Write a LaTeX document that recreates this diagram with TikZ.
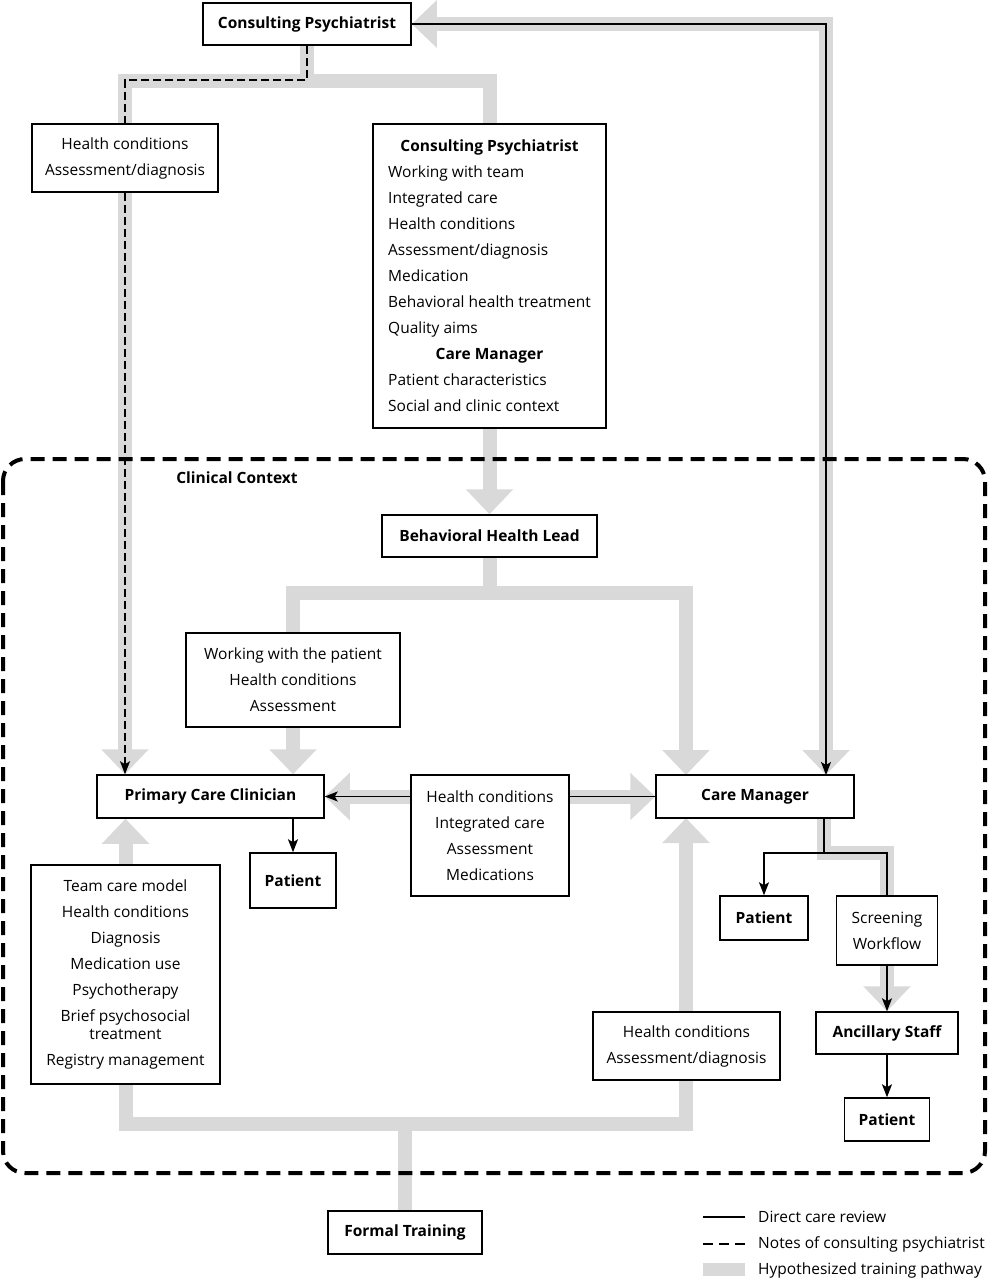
\documentclass[tikz,border=0pt]{standalone}
\usepackage{fontspec}
\setmainfont{Open Sans}
\usetikzlibrary{arrows.meta,backgrounds}
\definecolor{pathgray}{RGB}{217,217,217}
\begin{document}
\begin{tikzpicture}[x=1pt,y=-1pt,
 box/.style={draw, line width=1.5pt, fill=white, inner sep=0pt, font=\fontsize{15.5}{26}\selectfont, align=center},
 bbox/.style={box, font=\fontsize{15.5}{26}\selectfont\bfseries},
 gp/.style={draw=pathgray, line width=14pt},
 gpa/.style={gp, -{Triangle[width=46pt,length=25pt]}},
 dcr/.style={line width=1.5pt, draw=black},
 dcra/.style={dcr, -{Stealth[length=13pt,width=10pt,inset=3pt]}},
 notes/.style={dcr, dash pattern=on 8pt off 4pt},
 legtext/.style={anchor=west, inner sep=0pt, font=\fontsize{15.5}{18}\selectfont},
]
\useasboundingbox (0,0) rectangle (988,1280);

% nodes
\node[bbox, minimum width=208, minimum height=42] (cp) at (307,24) {Consulting Psychiatrist};
\node[box, minimum width=186, minimum height=68] (hc1) at (125,158) {Health conditions\\Assessment/diagnosis};
\node[box, minimum width=233, minimum height=304] (cpl) at (489.5,276) {%
 \renewcommand\arraystretch{1}%
 \begin{tabular}{@{}l@{}}
 \multicolumn{1}{@{}c@{}}{\bfseries Consulting Psychiatrist}\\
 Working with team\\
 Integrated care\\
 Health conditions\\
 Assessment/diagnosis\\
 Medication\\
 Behavioral health treatment\\
 Quality aims\\
 \multicolumn{1}{@{}c@{}}{\bfseries Care Manager}\\
 Patient characteristics\\
 Social and clinic context
 \end{tabular}};
\node[bbox, minimum width=215, minimum height=42] (bhl) at (489.5,536) {Behavioral Health Lead};
\node[box, minimum width=214, minimum height=94] (wp) at (293,680) {Working with the patient\\Health conditions\\Assessment};
\node[bbox, minimum width=227, minimum height=43] (pcc) at (210.5,796.5) {Primary Care Clinician};
\node[bbox, minimum width=198, minimum height=43] (cm) at (755,796.5) {Care Manager};
\node[box, minimum width=158, minimum height=121] (hc2) at (490,835.5) {Health conditions\\Integrated care\\Assessment\\Medications};
\node[bbox, minimum width=86, minimum height=55] (pat1) at (293,880.5) {Patient};
\node[box, minimum width=189, minimum height=219] (tc) at (125.5,974.5) {Team care model\\Health conditions\\Diagnosis\\Medication use\\Psychotherapy\\Brief psychosocial\\[-8pt]treatment\\Registry management};
\node[box, minimum width=187, minimum height=68] (hc3) at (686.5,1046) {Health conditions\\Assessment/diagnosis};
\node[bbox, minimum width=154, minimum height=43] (ft) at (405,1232.5) {Formal Training};
\node[bbox, minimum width=88, minimum height=44] (pat2) at (764,918) {Patient};
\node[box, minimum width=101, minimum height=69] (sw) at (887,930.5) {Screening\\Workflow};
\node[bbox, minimum width=142, minimum height=42] (as) at (887,1033) {Ancillary Staff};
\node[bbox, minimum width=85, minimum height=43] (pat3) at (887,1119.5) {Patient};
\node[font=\fontsize{15.5}{18}\selectfont\bfseries, inner sep=0pt] (cc) at (237,478) {Clinical Context};

% coordinates
\coordinate (j1) at (307,81);
\coordinate (j1d) at (307,80);
\coordinate (j2) at (489.5,593);
\coordinate (j3) at (405,1124);
\coordinate (cmTL) at (686,775);
\coordinate (cmBL) at (686,818);
\coordinate (cmTR) at (826,775);
\coordinate (cmBR) at (824,818);
\coordinate (cmJ) at (824,853);

\begin{scope}[on background layer]
 % training pathways
 \draw[gp] (cp.south) -- (j1) -| (hc1.north);
 \draw[gp] (j1) -| (cpl.north);
 \draw[gpa] (hc1.south) -- (hc1.south |- pcc.north);
 \draw[gpa] (cpl.south) -- (bhl.north);
 \draw[gp] (bhl.south) -- (j2) -| (wp.north);
 \draw[gpa] (j2) -| (cmTL);
 \draw[gpa] (wp.south) -- (wp.south |- pcc.north);
 \draw[gpa] (hc2.west |- pcc.east) -- (pcc.east);
 \draw[gpa] (hc2.east |- cm.west) -- (cm.west);
 \draw[gpa] (tc.north) -- (tc.north |- pcc.south);
 \draw[gp] (ft.north) -- (j3);
 \draw[gp] (tc.south) |- (j3);
 \draw[gpa] (j3) -| (cmBL);
 \draw[gp] (cmBR) -- (cmJ) -| (sw.north);
 \draw[gpa] (sw.south) -- (as.north);
 \draw[gp, {Triangle[width=46pt,length=25pt]}-{Triangle[width=46pt,length=25pt]}] (cmTR) |- (cp.east);
 % clinical context
 \draw[line width=4pt, dash pattern=on 14pt off 8pt, rounded corners=22pt] (3,459) rectangle (985,1173);
\end{scope}

% direct care review
\draw[dcra] (cp.east) -| (cmTR);
\draw[dcra] (hc2.west |- pcc.east) -- (pcc.east);
\draw[dcr] (hc2.east |- cm.west) -- (cm.west);
\draw[dcra] (pcc.south -| pat1.north) -- (pat1.north);
\draw[dcr] (cmBR) -- (cmJ);
\draw[dcra] (cmJ) -| (pat2.north);
\draw[dcr] (cmJ) -| (sw.north);
\draw[dcra] (sw.south) -- (as.north);
\draw[dcra] (as.south) -- (pat3.north);
% notes
\draw[notes] (cp.south) -- (j1d) -| (hc1.north);
\draw[notes, -{Stealth[length=13pt,width=10pt,inset=3pt]}] (hc1.south) -- (hc1.south |- pcc.north);

% legend
\coordinate (l1a) at (703,1217); \coordinate (l1b) at (745,1217);
\coordinate (l2a) at (703,1244); \coordinate (l2b) at (745,1244);
\draw[dcr] (l1a) -- (l1b);
\draw[dcr, dash pattern=on 10pt off 6pt] (l2a) -- (l2b);
\fill[pathgray] (703,1263) rectangle (745,1276);
\node[legtext] (t1) at (758,1217) {Direct care review};
\node[legtext] (t2) at (758,1244) {Notes of consulting psychiatrist};
\node[legtext] (t3) at (758,1270) {Hypothesized training pathway};
\end{tikzpicture}
\end{document}
